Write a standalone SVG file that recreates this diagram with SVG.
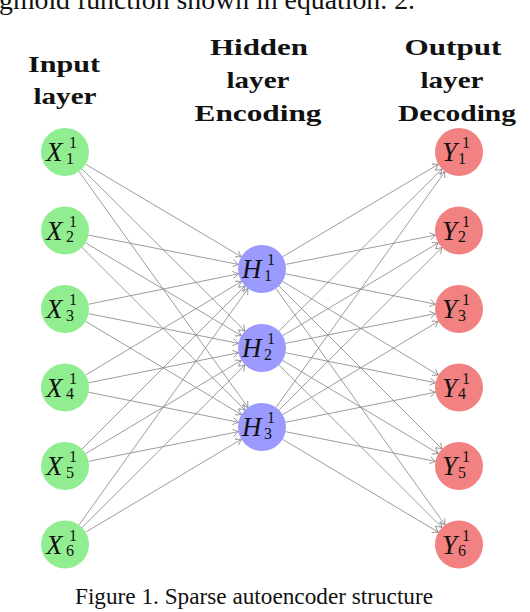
<svg xmlns="http://www.w3.org/2000/svg" width="530" height="612" viewBox="0 0 530 612">
<style>
.hd{font-family:"Liberation Serif","Times New Roman",serif;font-weight:bold;font-size:24px;fill:#111;text-anchor:middle}
.cap{font-family:"Liberation Serif","Times New Roman",serif;fill:#111}
.m{font-family:"Liberation Serif","Times New Roman",serif;font-style:italic;font-size:27px;fill:#111}
.s{font-family:"Liberation Serif","Times New Roman",serif;font-size:16px;fill:#111}
.in{fill:#90ee90}
.hid{fill:#9a9aff}
.out{fill:#f28282}
.e line{stroke:#8a8a8a;stroke-width:0.85;fill:none;marker-end:url(#arr)}
</style>
<defs>
<marker id="arr" markerUnits="userSpaceOnUse" viewBox="-7 -4 8 8" markerWidth="8" markerHeight="8" refX="0" refY="0" orient="auto">
<path d="M-5.5,-3.6 Q-2,-1 0,0 Q-2,1 -5.5,3.6" fill="none" stroke="#8a8a8a" stroke-width="0.85"/>
</marker>
</defs>
<rect width="530" height="612" fill="#fff"/>
<text class="cap" x="-1" y="8.5" font-size="27" textLength="416" lengthAdjust="spacingAndGlyphs">gmoid function shown in equation. 2.</text>
<g id="headers">
<text class="hd" x="64" y="71.5" textLength="72" lengthAdjust="spacingAndGlyphs">Input</text>
<text class="hd" x="65" y="103.5" textLength="63" lengthAdjust="spacingAndGlyphs">layer</text>
<text class="hd" x="259" y="55" textLength="98" lengthAdjust="spacingAndGlyphs">Hidden</text>
<text class="hd" x="258" y="88" textLength="63" lengthAdjust="spacingAndGlyphs">layer</text>
<text class="hd" x="258" y="120.5" textLength="127" lengthAdjust="spacingAndGlyphs">Encoding</text>
<text class="hd" x="453" y="55" textLength="97" lengthAdjust="spacingAndGlyphs">Output</text>
<text class="hd" x="452" y="88" textLength="63" lengthAdjust="spacingAndGlyphs">layer</text>
<text class="hd" x="457" y="120.5" textLength="118" lengthAdjust="spacingAndGlyphs">Decoding</text>
</g>
<g id="connectors" class="e">
<line x1="85.64" y1="164.25" x2="241.36" y2="256.75"/>
<line x1="82.01" y1="168.93" x2="244.99" y2="331.07"/>
<line x1="78.98" y1="171.51" x2="248.02" y2="407.49"/>
<line x1="88.55" y1="235.10" x2="238.45" y2="264.40"/>
<line x1="85.61" y1="242.79" x2="241.39" y2="335.71"/>
<line x1="81.99" y1="247.45" x2="245.01" y2="410.05"/>
<line x1="88.52" y1="304.22" x2="238.48" y2="273.78"/>
<line x1="88.54" y1="313.66" x2="238.46" y2="343.34"/>
<line x1="85.59" y1="321.33" x2="241.41" y2="414.67"/>
<line x1="85.57" y1="375.13" x2="241.43" y2="281.37"/>
<line x1="88.53" y1="382.78" x2="238.47" y2="352.72"/>
<line x1="88.53" y1="392.22" x2="238.47" y2="422.28"/>
<line x1="81.97" y1="449.03" x2="245.03" y2="285.97"/>
<line x1="85.59" y1="453.67" x2="241.41" y2="360.33"/>
<line x1="88.54" y1="461.34" x2="238.46" y2="431.66"/>
<line x1="78.96" y1="524.98" x2="248.04" y2="288.52"/>
<line x1="81.99" y1="527.55" x2="245.01" y2="364.95"/>
<line x1="85.61" y1="532.21" x2="241.39" y2="439.29"/>
<line x1="282.64" y1="256.75" x2="438.36" y2="164.25"/>
<line x1="279.01" y1="331.07" x2="441.99" y2="168.93"/>
<line x1="275.98" y1="407.49" x2="445.02" y2="171.51"/>
<line x1="285.55" y1="264.40" x2="435.45" y2="235.10"/>
<line x1="282.61" y1="335.71" x2="438.39" y2="242.79"/>
<line x1="278.99" y1="410.05" x2="442.01" y2="247.45"/>
<line x1="285.52" y1="273.78" x2="435.48" y2="304.22"/>
<line x1="285.54" y1="343.34" x2="435.46" y2="313.66"/>
<line x1="282.59" y1="414.67" x2="438.41" y2="321.33"/>
<line x1="282.57" y1="281.37" x2="438.43" y2="375.13"/>
<line x1="285.53" y1="352.72" x2="435.47" y2="382.78"/>
<line x1="285.53" y1="422.28" x2="435.47" y2="392.22"/>
<line x1="278.97" y1="285.97" x2="442.03" y2="449.03"/>
<line x1="282.59" y1="360.33" x2="438.41" y2="453.67"/>
<line x1="285.54" y1="431.66" x2="435.46" y2="461.34"/>
<line x1="275.96" y1="288.52" x2="445.04" y2="524.98"/>
<line x1="278.99" y1="364.95" x2="442.01" y2="527.55"/>
<line x1="282.61" y1="439.29" x2="438.39" y2="532.21"/>
</g>
<g id="X1"><circle class="in" cx="65" cy="152" r="24"/><text class="m" x="46" y="161">X</text><text class="s" x="69" y="148">1</text><text class="s" x="66" y="163.5">1</text></g>
<g id="X2"><circle class="in" cx="65" cy="230.5" r="24"/><text class="m" x="46" y="239.5">X</text><text class="s" x="69" y="226.5">1</text><text class="s" x="66" y="242">2</text></g>
<g id="X3"><circle class="in" cx="65" cy="309" r="24"/><text class="m" x="46" y="318">X</text><text class="s" x="69" y="305">1</text><text class="s" x="66" y="320.5">3</text></g>
<g id="X4"><circle class="in" cx="65" cy="387.5" r="24"/><text class="m" x="46" y="396.5">X</text><text class="s" x="69" y="383.5">1</text><text class="s" x="66" y="399">4</text></g>
<g id="X5"><circle class="in" cx="65" cy="466" r="24"/><text class="m" x="46" y="475">X</text><text class="s" x="69" y="462">1</text><text class="s" x="66" y="477.5">5</text></g>
<g id="X6"><circle class="in" cx="65" cy="544.5" r="24"/><text class="m" x="46" y="553.5">X</text><text class="s" x="69" y="540.5">1</text><text class="s" x="66" y="556">6</text></g>
<g id="H1"><circle class="hid" cx="262" cy="269" r="24"/><text class="m" x="242" y="278">H</text><text class="s" x="267" y="265">1</text><text class="s" x="264" y="280.5">1</text></g>
<g id="H2"><circle class="hid" cx="262" cy="348" r="24"/><text class="m" x="242" y="357">H</text><text class="s" x="267" y="344">1</text><text class="s" x="264" y="359.5">2</text></g>
<g id="H3"><circle class="hid" cx="262" cy="427" r="24"/><text class="m" x="242" y="436">H</text><text class="s" x="267" y="423">1</text><text class="s" x="264" y="438.5">3</text></g>
<g id="Y1"><circle class="out" cx="459" cy="152" r="24"/><text class="m" x="442" y="161">Y</text><text class="s" x="462" y="148">1</text><text class="s" x="458" y="163.5">1</text></g>
<g id="Y2"><circle class="out" cx="459" cy="230.5" r="24"/><text class="m" x="442" y="239.5">Y</text><text class="s" x="462" y="226.5">1</text><text class="s" x="458" y="242">2</text></g>
<g id="Y3"><circle class="out" cx="459" cy="309" r="24"/><text class="m" x="442" y="318">Y</text><text class="s" x="462" y="305">1</text><text class="s" x="458" y="320.5">3</text></g>
<g id="Y4"><circle class="out" cx="459" cy="387.5" r="24"/><text class="m" x="442" y="396.5">Y</text><text class="s" x="462" y="383.5">1</text><text class="s" x="458" y="399">4</text></g>
<g id="Y5"><circle class="out" cx="459" cy="466" r="24"/><text class="m" x="442" y="475">Y</text><text class="s" x="462" y="462">1</text><text class="s" x="458" y="477.5">5</text></g>
<g id="Y6"><circle class="out" cx="459" cy="544.5" r="24"/><text class="m" x="442" y="553.5">Y</text><text class="s" x="462" y="540.5">1</text><text class="s" x="458" y="556">6</text></g>
<text class="cap" x="75" y="604" font-size="22.5" textLength="358" lengthAdjust="spacingAndGlyphs">Figure 1. Sparse autoencoder structure</text>
</svg>
